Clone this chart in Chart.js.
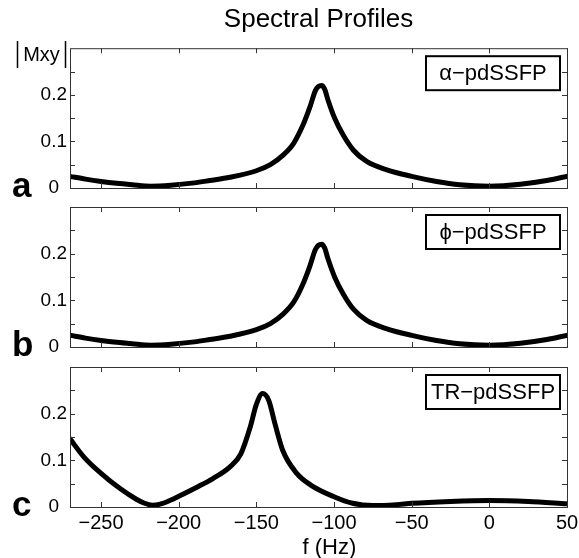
<!DOCTYPE html>
<html>
<head>
<meta charset="utf-8">
<title>Spectral Profiles</title>
<script src="https://cdn.jsdelivr.net/npm/chart.js@4.4.1/dist/chart.umd.min.js"></script>
<style>
  body { margin: 0; background: #fff; overflow: hidden; width: 579px; height: 558px; position: relative; }
  canvas { position: absolute; left: 0; }
</style>
</head>
<body>
<canvas id="panelA" width="579" height="200" style="top:0px"></canvas>
<canvas id="panelB" width="579" height="160" style="top:200px"></canvas>
<canvas id="panelC" width="579" height="198" style="top:360px"></canvas>
<script>
// values: f (Hz) and |Mxy|
var freqA = [-270, -260, -250, -240, -230, -218, -205, -190, -180, -167, -150, -141, -133, -126, -120, -115.5, -112, -110, -108, -106, -104, -99.5, -94, -87.5, -79, -66, -50, -34, -19, 0, 20, 37, 50];
var mxyA  = [0.025, 0.019, 0.014, 0.010, 0.007, 0.004, 0.006, 0.011, 0.016, 0.023, 0.037, 0.050, 0.070, 0.096, 0.135, 0.174, 0.209, 0.218, 0.220, 0.212, 0.190, 0.149, 0.113, 0.081, 0.057, 0.039, 0.025, 0.014, 0.007, 0.004, 0.008, 0.016, 0.025];

var freqB = [-270, -260, -250, -240, -230, -218, -205, -190, -180, -167, -150, -141, -133, -126, -120, -115.5, -112, -110, -108, -106, -104, -99.5, -94, -87.5, -79, -66, -50, -34, -19, 0, 20, 37, 50];
var mxyB  = [0.025, 0.019, 0.014, 0.010, 0.007, 0.004, 0.006, 0.011, 0.016, 0.023, 0.037, 0.050, 0.070, 0.096, 0.135, 0.174, 0.209, 0.218, 0.220, 0.212, 0.190, 0.149, 0.113, 0.081, 0.057, 0.039, 0.025, 0.014, 0.007, 0.004, 0.008, 0.016, 0.025];

var freqC = [-270, -261, -250, -238, -227, -222, -217, -212, -205, -200, -188, -178, -167, -160, -154, -150, -146, -142, -138, -133, -124, -115, -100, -88, -75, -60, -50, -25, 0, 25, 50];
var mxyC  = [0.146, 0.107, 0.072, 0.040, 0.016, 0.008, 0.004, 0.006, 0.015, 0.023, 0.043, 0.061, 0.086, 0.114, 0.171, 0.220, 0.243, 0.228, 0.178, 0.121, 0.072, 0.047, 0.022, 0.008, 0.003, 0.005, 0.008, 0.012, 0.014, 0.012, 0.007];

var xTicks = [-250, -200, -150, -100, -50, 0, 50];
var yTicks = [0, 0.05, 0.1, 0.15, 0.2, 0.25];
var yTickLabels = ['0', '', '0.1', '', '0.2', ''];
var panelLetters = ['a', 'b', 'c'];
var panelNames = ['\u03b1\u2212pdSSFP', '\u03d5\u2212pdSSFP', 'TR\u2212pdSSFP'];

var FONT = '"Liberation Sans", Arial, Helvetica, sans-serif';
var INK = '#000';
var AXIS = '#333';

// matlab style box, inward ticks, legend box and panel letter
var panelDeco = {
  id: 'panelDeco',
  afterDatasetsDraw: function(chart, args, opts) {
    var ctx = chart.ctx, a = chart.chartArea;
    var xs = chart.scales.x, ys = chart.scales.y;
    ctx.save();
    ctx.strokeStyle = AXIS;
    ctx.lineWidth = 1;
    ctx.beginPath();
    xTicks.forEach(function(v) {
      var px = Math.round(xs.getPixelForValue(v)) + 0.5;
      ctx.moveTo(px, a.top); ctx.lineTo(px, a.top + 5);
      ctx.moveTo(px, a.bottom); ctx.lineTo(px, a.bottom - 5);
    });
    yTicks.forEach(function(v) {
      var py = Math.round(ys.getPixelForValue(v)) + 0.5;
      ctx.moveTo(a.left, py); ctx.lineTo(a.left + 5, py);
      ctx.moveTo(a.right, py); ctx.lineTo(a.right - 5, py);
    });
    ctx.stroke();
    ctx.strokeRect(a.left + 0.5, a.top + 0.5, a.right - a.left, a.bottom - a.top);

    // legend box
    var bw = 134, bh = 34;
    var bx = a.right - 141, by = a.top + 8;
    ctx.fillStyle = '#fff';
    ctx.fillRect(bx, by, bw, bh);
    ctx.strokeStyle = INK;
    ctx.lineWidth = 2;
    ctx.strokeRect(bx, by, bw, bh);
    ctx.fillStyle = INK;
    ctx.font = '22px ' + FONT;
    ctx.textAlign = 'center';
    ctx.textBaseline = 'middle';
    ctx.fillText(opts.label, bx + bw / 2, by + bh / 2 + 1);

    // panel letter
    ctx.font = 'bold 35px ' + FONT;
    ctx.textAlign = 'left';
    ctx.textBaseline = 'alphabetic';
    ctx.fillText(opts.letter, 12, a.bottom + 9);

    // |Mxy| label on the first panel
    if (opts.yLabel) {
      ctx.lineWidth = 1.5;
      ctx.strokeStyle = INK;
      ctx.beginPath();
      ctx.moveTo(17.5, 41); ctx.lineTo(17.5, 68);
      ctx.moveTo(65.5, 41); ctx.lineTo(65.5, 68);
      ctx.stroke();
      ctx.font = '20px ' + FONT;
      ctx.textAlign = 'center';
      ctx.fillText(opts.yLabel, 41.5, 61);
    }

    // axis title of the bottom panel
    if (opts.xLabel) {
      ctx.font = '22px ' + FONT;
      ctx.textAlign = 'center';
      ctx.textBaseline = 'alphabetic';
      ctx.fillText(opts.xLabel, xs.getPixelForValue(-103), chart.height - 4);
    }
    ctx.restore();
  }
};

function makePanel(id, freq, mxy, idx, extra) {
  var showX = idx === 2;
  var cfg = {
    type: 'line',
    data: {
      datasets: [{
        data: freq.map(function(f, i) { return { x: f, y: mxy[i] }; }),
        borderColor: INK,
        borderWidth: 5,
        pointRadius: 0,
        fill: false,
        cubicInterpolationMode: 'monotone',
        borderJoinStyle: 'round',
        borderCapStyle: 'round',
        clip: 0
      }]
    },
    options: {
      responsive: false,
      animation: false,
      events: [],
      layout: { padding: extra.padding },
      plugins: {
        legend: { display: false },
        tooltip: { enabled: false },
        title: extra.title ? {
          display: true,
          text: extra.title,
          fullSize: false,
          color: INK,
          font: { family: FONT, size: 26, weight: 'normal' },
          padding: { top: 4, bottom: 13 }
        } : { display: false },
        panelDeco: { label: panelNames[idx], letter: panelLetters[idx], yLabel: extra.yLabel, xLabel: extra.xLabel }
      },
      scales: {
        x: {
          type: 'linear',
          min: -270,
          max: 50,
          grid: { display: false, drawTicks: false },
          border: { display: false },
          afterBuildTicks: function(s) { s.ticks = xTicks.map(function(v) { return { value: v }; }); },
          afterFit: function(s) { s.height = showX ? 51 : 0; s.paddingLeft = 0; s.paddingRight = 0; },
          ticks: {
            display: showX,
            padding: 4,
            color: INK,
            font: { family: FONT, size: 20 },
            maxRotation: 0,
            autoSkip: false,
            callback: function(v) { return String(v).replace('-', '\u2212'); }
          }
        },
        y: {
          min: 0,
          max: 0.3,
          grid: { display: false, drawTicks: false },
          border: { display: false },
          afterBuildTicks: function(s) { s.ticks = yTicks.map(function(v) { return { value: v }; }); },
          afterFit: function(s) { s.width = 70; s.paddingTop = 0; s.paddingBottom = 0; },
          ticks: {
            padding: 3,
            crossAlign: 'center',
            color: INK,
            font: { family: FONT, size: 19 },
            autoSkip: false,
            callback: function(v, i) { return yTickLabels[i]; }
          }
        }
      }
    },
    plugins: [panelDeco]
  };
  return new Chart(document.getElementById(id), cfg);
}

makePanel('panelA', freqA, mxyA, 0, { title: 'Spectral Profiles', yLabel: 'Mxy', padding: { top: 0, right: 12, bottom: 12, left: 0 } });
makePanel('panelB', freqB, mxyB, 1, { padding: { top: 7, right: 12, bottom: 13, left: 0 } });
makePanel('panelC', freqC, mxyC, 2, { xLabel: 'f (Hz)', padding: { top: 7, right: 12, bottom: 0, left: 0 } });
</script>
</body>
</html>
